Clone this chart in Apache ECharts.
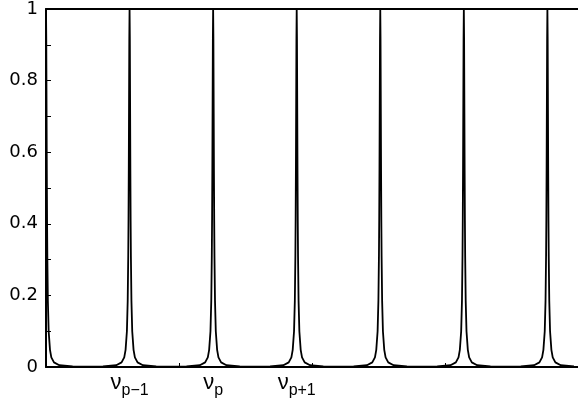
<!DOCTYPE html>
<html>
<head>
<meta charset="utf-8">
<script src="https://cdn.jsdelivr.net/npm/echarts@6/dist/echarts.min.js"></script>
<style>
html,body{margin:0;padding:0;background:#fff;}
#chart{width:578px;height:401px;}
</style>
</head>
<body>
<div id="chart"></div>
<script>
// Peak centres (x units; peaks spaced by pi)
const peakCenters = [0, 3.1416, 6.2832, 9.4248, 12.5664, 15.7080, 18.8496];
// Peak profile: offset from peak centre, transmission
const profileOffsets = [-1.57, -1.0, -0.5, -0.3, -0.2, -0.15, -0.1, -0.07, -0.05, -0.04, -0.03, -0.02, -0.01, 0,
                        0.01, 0.02, 0.03, 0.04, 0.05, 0.07, 0.1, 0.15, 0.2, 0.3, 0.5, 1.0, 1.57];
const profileValues = [0.0011, 0.0016, 0.005, 0.013, 0.027, 0.048, 0.10, 0.185, 0.31, 0.41, 0.55, 0.735, 0.917, 1,
                       0.917, 0.735, 0.55, 0.41, 0.31, 0.185, 0.10, 0.048, 0.027, 0.013, 0.005, 0.0016, 0.0011];
// Peak labels
const peakLabelValues = [3.1416, 6.2832, 9.4248];
const peakLabelSubs = ['p\u22121', 'p', 'p+1'];
const xMin = 0, xMax = 20;

const data = [];
peakCenters.forEach(c => {
  profileOffsets.forEach((o, i) => {
    const x = c + o;
    if (x >= xMin && x <= xMax) data.push([x, profileValues[i]]);
  });
});
data.sort((a, b) => a[0] - b[0]);

const chart = echarts.init(document.getElementById('chart'), null, {renderer: 'canvas'});
const font = 'Liberation Sans, Arial, Helvetica, sans-serif';
chart.setOption({
  animation: false,
  backgroundColor: '#fff',
  grid: {left: 46, right: 0, top: 7, bottom: 34, containLabel: false},
  xAxis: [
    {
      type: 'value', min: xMin, max: xMax, interval: 5, position: 'bottom',
      axisLine: {show: true, onZero: false, lineStyle: {color: '#000', width: 2}},
      axisTick: {show: true, inside: true, length: 4, lineStyle: {color: '#000', width: 1}},
      axisLabel: {show: false},
      splitLine: {show: false}
    },
    {
      type: 'value', min: xMin, max: xMax, position: 'top',
      axisLine: {show: true, onZero: false, lineStyle: {color: '#000', width: 2}},
      axisTick: {show: false}, axisLabel: {show: false}, splitLine: {show: false}
    },
    {
      type: 'value', min: xMin, max: xMax, position: 'bottom', gridIndex: 0,
      axisLine: {show: false}, axisTick: {show: false}, splitLine: {show: false},
      axisLabel: {
        show: true, margin: 10,
        customValues: peakLabelValues,
        formatter: function (v) {
          let idx = 0, best = 1e9;
          peakLabelValues.forEach((p, i) => { if (Math.abs(p - v) < best) { best = Math.abs(p - v); idx = i; } });
          return '{n|\u03bd}{s|' + peakLabelSubs[idx] + '}';
        },
        rich: {
          n: {fontFamily: font, fontSize: 22, lineHeight: 22, color: '#000', verticalAlign: 'bottom', padding: [0, 0, 5, 0]},
          s: {fontFamily: font, fontSize: 16, lineHeight: 16, color: '#000', verticalAlign: 'bottom'}
        }
      }
    }
  ],
  yAxis: {
    type: 'value', min: 0, max: 1, interval: 0.1,
    axisLine: {show: true, onZero: false, lineStyle: {color: '#000', width: 2}},
    axisTick: {show: true, inside: true, length: 5, lineStyle: {color: '#000', width: 1}},
    axisLabel: {
      show: true, margin: 8, color: '#000', fontFamily: 'DejaVu Sans, sans-serif', fontSize: 18,
      formatter: function (v) {
        const k = Math.round(v * 10);
        if (k % 2 !== 0) return '';
        return k === 0 ? '0' : (k === 10 ? '1' : (k / 10).toString());
      }
    },
    splitLine: {show: false}
  },
  series: [{
    type: 'line', xAxisIndex: 0, yAxisIndex: 0,
    data: data, showSymbol: false, symbol: 'none', clip: true,
    lineStyle: {color: '#000', width: 1.8}
  }]
});
</script>
</body>
</html>
